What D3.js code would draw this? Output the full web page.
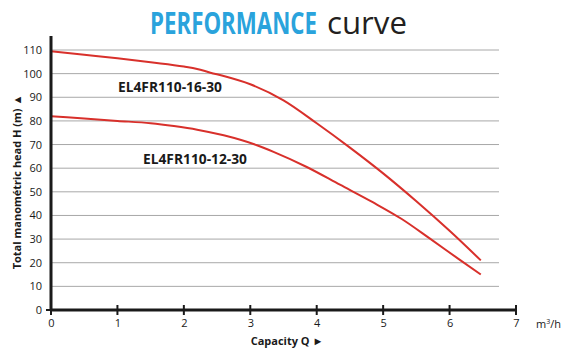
<!DOCTYPE html>
<html><head><meta charset="utf-8">
<script src="https://cdn.jsdelivr.net/npm/d3@7"></script>
<style>html,body{margin:0;padding:0;background:#fff;}svg{display:block;}</style>
</head><body>
<svg id="c" width="571" height="357"></svg>
<script>
const xTicks = [0,1,2,3,4,5,6,7];
const yTicks = [0,10,20,30,40,50,60,70,80,90,100,110];
const seriesNames = ["EL4FR110-16-30","EL4FR110-12-30"];
const qUpper = [0,0.5,1,1.5,2,2.2,2.4,2.6,3,3.5,4,4.5,5,5.5,6,6.47];
const hUpper = [109.5,108,106.5,104.8,103,102,100.4,99,95.5,88.7,79,68.7,57.8,46,33.5,21];
const qLower = [0,0.5,1,1.5,1.85,2.2,2.6,3.1,3.35,3.85,4.35,4.85,5.28,5.7,6.16,6.47];
const hLower = [82,81,80,79,77.8,76.3,73.9,69.7,66.9,60.5,53,45.5,38.5,30.3,21.1,15];

const svg = d3.select("#c");
const x = d3.scaleLinear().domain([0,7]).range([51,516]);
const y = d3.scaleLinear().domain([0,110]).range([310,50]);
const red = "#d8302b";

// title: condensed by horizontal scaling
function squeezed(txt, x0, y0, width, size, weight, fill) {
  const el = svg.append("text").attr("font-family","Open Sans, sans-serif")
    .attr("font-size",size).attr("font-weight",weight).attr("fill",fill).text(txt);
  const w = el.node().getComputedTextLength();
  el.attr("transform",`translate(${x0},${y0}) scale(${width/w},1)`);
  return el;
}
squeezed("PERFORMANCE",150,34,167,31,700,"#2aa3dc");
squeezed("curve",327,34,80,31,400,"#231f20");

// gridlines
svg.append("g").selectAll("line").data(yTicks.filter(d=>d>0)).join("line")
  .attr("x1",x(0)).attr("x2",499).attr("y1",d=>y(d)).attr("y2",d=>y(d))
  .attr("stroke","#a8a8a8").attr("stroke-width",1);

// curves
const line = d3.line().x(d=>x(d[0])).y(d=>y(d[1])).curve(d3.curveMonotoneX);
svg.append("path").attr("d",line(qUpper.map((q,i)=>[q,hUpper[i]])))
  .attr("fill","none").attr("stroke",red).attr("stroke-width",2);
svg.append("path").attr("d",line(qLower.map((q,i)=>[q,hLower[i]])))
  .attr("fill","none").attr("stroke",red).attr("stroke-width",2);

// axes
const xAxis = d3.axisBottom(x).tickValues(xTicks).tickSize(0).tickPadding(9).tickFormat(d3.format("d"));
const gx = svg.append("g").attr("transform","translate(0,310)").call(xAxis);
gx.select(".domain").remove();
gx.selectAll("text").attr("font-family","Open Sans, sans-serif").attr("font-size",11).attr("fill","#1a1a1a");
svg.append("line").attr("x1",x(0)-1).attr("x2",x(7)+1).attr("y1",310).attr("y2",310)
  .attr("stroke","#1a1a1a").attr("stroke-width",3);
svg.append("g").selectAll("line").data(xTicks).join("line")
  .attr("x1",d=>x(d)).attr("x2",d=>x(d)).attr("y1",305).attr("y2",315)
  .attr("stroke","#1a1a1a").attr("stroke-width",2);

const yAxis = d3.axisLeft(y).tickValues(yTicks).tickSize(0).tickPadding(9);
const gy = svg.append("g").attr("transform","translate(51,0)").call(yAxis);
gy.select(".domain").remove();
gy.selectAll("text").attr("font-family","Open Sans, sans-serif").attr("font-size",11).attr("fill","#1a1a1a");
svg.append("line").attr("x1",51).attr("x2",51).attr("y1",36).attr("y2",311)
  .attr("stroke","#1a1a1a").attr("stroke-width",3);
svg.append("line").attr("x1",46).attr("x2",51).attr("y1",310).attr("y2",310)
  .attr("stroke","#1a1a1a").attr("stroke-width",2);

// series labels
const lab = svg.append("g").attr("font-family","Open Sans, sans-serif").attr("font-weight",700)
  .attr("font-size",14).attr("fill","#1a1a1a");
lab.append("text").attr("x",118).attr("y",92).attr("textLength",104).attr("lengthAdjust","spacingAndGlyphs").text(seriesNames[0]);
lab.append("text").attr("x",143).attr("y",164).attr("textLength",104).attr("lengthAdjust","spacingAndGlyphs").text(seriesNames[1]);

// axis titles
svg.append("text").attr("x",287).attr("y",345).attr("text-anchor","middle")
  .attr("font-family","Open Sans, sans-serif").attr("font-weight",700).attr("font-size",11)
  .attr("fill","#1a1a1a").text("Capacity Q  \u25BA");
svg.append("text").attr("x",536).attr("y",328)
  .attr("font-family","Open Sans, sans-serif").attr("font-size",11).attr("fill","#1a1a1a")
  .html("m<tspan dy='-4' font-size='7'>3</tspan><tspan dy='4'>/h</tspan>");
svg.append("text").attr("transform","translate(21,182) rotate(-90)").attr("text-anchor","middle")
  .attr("font-family","Open Sans, sans-serif").attr("font-weight",700).attr("font-size",11)
  .attr("fill","#1a1a1a").text("Total manométric head H (m) \u25B2");
</script>
</body></html>
